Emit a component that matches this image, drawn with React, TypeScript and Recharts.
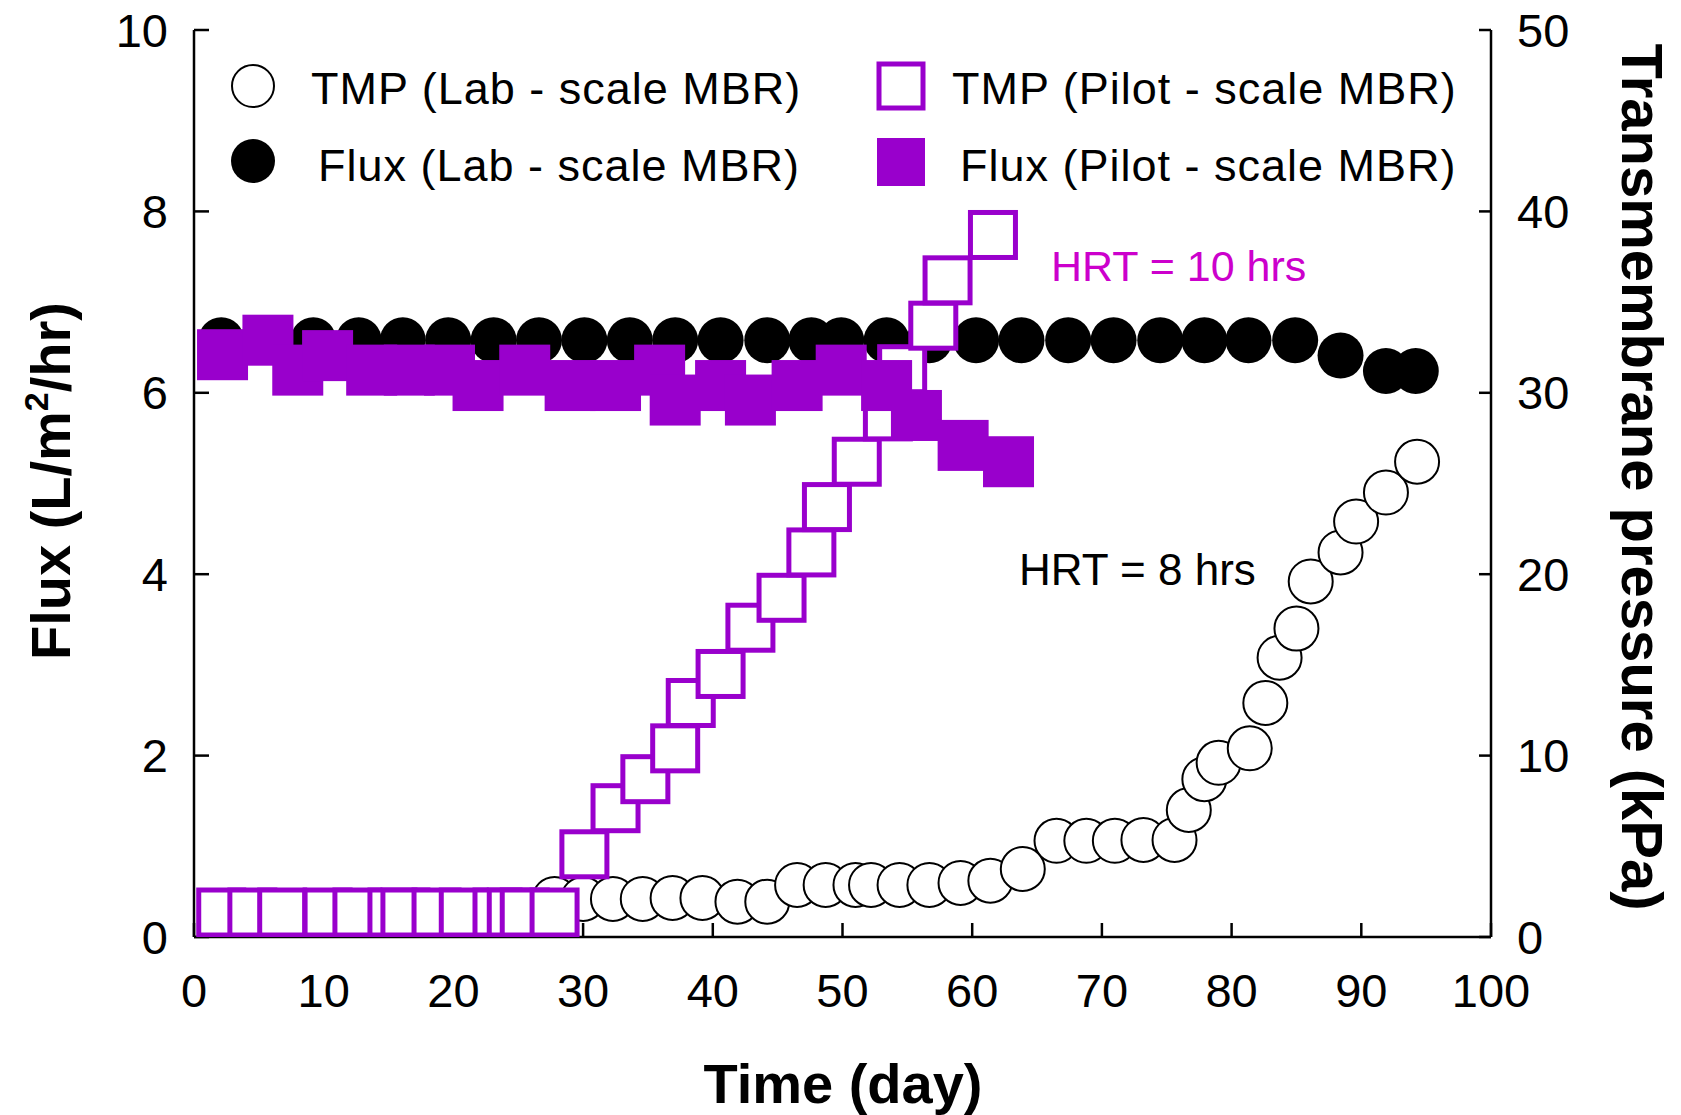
import React from 'react';
import { ComposedChart, Scatter, XAxis, YAxis } from 'recharts';

const FONT = '"Liberation Sans", Arial, Helvetica, sans-serif';
const PURPLE = '#9900cc';
const MAGENTA = '#cc00cc';

// Lab-scale MBR, flux (L/m2/hr)
const labFluxDays = [2.1, 9.2, 12.7, 16.1, 19.6, 23.1, 26.6, 30.1, 33.6, 37.1, 40.6, 44.2, 47.6, 49.9, 53.4, 56.7, 60.3, 63.8, 67.4, 70.9, 74.5, 77.9, 81.3, 84.9, 88.4, 91.9, 94.2];
const labFlux = [6.58, 6.58, 6.58, 6.58, 6.58, 6.58, 6.58, 6.58, 6.58, 6.58, 6.58, 6.58, 6.58, 6.58, 6.58, 6.58, 6.58, 6.58, 6.58, 6.58, 6.58, 6.58, 6.58, 6.58, 6.41, 6.24, 6.24];

// Lab-scale MBR, TMP (kPa)
const labTmpDays = [2.1, 10.8, 27.8, 30.0, 32.3, 34.6, 36.9, 39.2, 41.9, 44.2, 46.5, 48.7, 51.0, 52.2, 54.4, 56.7, 59.1, 61.4, 63.9, 66.5, 68.8, 71.0, 73.2, 75.6, 76.7, 77.9, 79.0, 81.4, 82.6, 83.7, 85.0, 86.1, 88.4, 89.6, 91.9, 94.3];
const labTmp = [1.3, 1.3, 2.1, 2.1, 2.1, 2.1, 2.15, 2.15, 1.95, 1.95, 2.87, 2.87, 2.87, 2.87, 2.87, 2.87, 2.98, 3.1, 3.75, 5.3, 5.3, 5.3, 5.35, 5.35, 7.0, 8.7, 9.6, 10.4, 12.9, 15.4, 17.0, 19.6, 21.2, 22.9, 24.5, 26.2];

// Pilot-scale MBR, flux (L/m2/hr)
const pilotFluxDays = [2.2, 5.7, 8.0, 10.3, 13.7, 16.6, 19.7, 21.9, 25.5, 29.0, 32.5, 35.9, 37.1, 40.6, 42.9, 46.5, 49.9, 53.4, 55.7, 59.3, 62.8];
const pilotFlux = [6.42, 6.58, 6.25, 6.41, 6.25, 6.25, 6.25, 6.08, 6.25, 6.08, 6.08, 6.25, 5.92, 6.08, 5.92, 6.08, 6.25, 6.08, 5.75, 5.42, 5.24];

// Pilot-scale MBR, TMP (kPa)
const pilotTmpDays = [2.1, 4.5, 6.8, 10.3, 12.6, 15.3, 16.3, 18.7, 20.8, 23.4, 24.5, 25.5, 27.8, 30.1, 32.5, 34.8, 37.1, 38.3, 40.6, 42.9, 45.3, 47.6, 48.8, 51.1, 53.5, 54.6, 57.0, 58.1, 61.6];
const pilotTmp = [1.35, 1.35, 1.35, 1.35, 1.35, 1.35, 1.35, 1.35, 1.35, 1.35, 1.35, 1.35, 1.35, 4.56, 7.1, 8.7, 10.4, 12.9, 14.5, 17.05, 18.7, 21.2, 23.7, 26.2, 28.7, 31.3, 33.7, 36.2, 38.7];

const dayTicks = [0, 10, 20, 30, 40, 50, 60, 70, 80, 90, 100];
const fluxTicks = [0, 2, 4, 6, 8, 10];
const tmpTicks = [0, 10, 20, 30, 40, 50];

const zip = (xs: number[], ys: number[]) => xs.map((d, i) => ({ day: d, value: ys[i] }));

const labFluxData = zip(labFluxDays, labFlux);
const labTmpData = zip(labTmpDays, labTmp);
const pilotFluxData = zip(pilotFluxDays, pilotFlux);
const pilotTmpData = zip(pilotTmpDays, pilotTmp);

// marker shapes
const FilledCircle = (p: any) => <circle cx={p.cx} cy={p.cy} r={23} fill="#000" />;
const OpenCircle = (p: any) => <circle cx={p.cx} cy={p.cy} r={22} fill="#fff" stroke="#000" strokeWidth={2} />;
const FilledSquare = (p: any) => <rect x={p.cx - 25.5} y={p.cy - 25.5} width={51} height={51} fill={PURPLE} />;
const OpenSquare = (p: any) => (
  <rect x={p.cx - 22.5} y={p.cy - 22.5} width={45} height={45} fill="#fff" stroke={PURPLE} strokeWidth={5} />
);

const tickStyle = { fill: '#000', fontSize: 47, fontFamily: FONT };
const axisLine = { stroke: '#000', strokeWidth: 2.5 };
const tickLine = { stroke: '#000', strokeWidth: 2.5 };

export default function App() {
  return (
    <div style={{ position: 'absolute', left: 0, top: 0, background: '#fff' }}>
      <ComposedChart
        width={1681}
        height={1115}
        margin={{ top: 30, right: 90, bottom: 118, left: 94 }}
        style={{ fontFamily: FONT }}
      >
        <XAxis
          xAxisId="bottom"
          type="number"
          dataKey="day"
          domain={[0, 100]}
          ticks={dayTicks}
          interval={0}
          height={60}
          tickSize={-14}
          tickMargin={51}
          tick={tickStyle}
          axisLine={axisLine}
          tickLine={tickLine}
          allowDataOverflow
        />
        <XAxis
          xAxisId="top"
          orientation="top"
          type="number"
          dataKey="day"
          domain={[0, 100]}
          height={0}
          tick={false}
          tickLine={false}
          axisLine={axisLine}
        />
        <YAxis
          yAxisId="flux"
          orientation="left"
          type="number"
          dataKey="value"
          domain={[0, 10]}
          ticks={fluxTicks}
          interval={0}
          width={100}
          tickSize={-15}
          tickMargin={41}
          tick={tickStyle}
          axisLine={axisLine}
          tickLine={tickLine}
          allowDataOverflow
        />
        <YAxis
          yAxisId="tmp"
          orientation="right"
          type="number"
          dataKey="value"
          domain={[0, 50]}
          ticks={tmpTicks}
          interval={0}
          width={100}
          tickSize={-12}
          tickMargin={38}
          tick={tickStyle}
          axisLine={axisLine}
          tickLine={tickLine}
          allowDataOverflow
        />

        <Scatter name="Flux (Lab-scale MBR)" data={labFluxData} xAxisId="bottom" yAxisId="flux" shape={FilledCircle} isAnimationActive={false} />
        <Scatter name="TMP (Lab-scale MBR)" data={labTmpData} xAxisId="bottom" yAxisId="tmp" shape={OpenCircle} isAnimationActive={false} />
        <Scatter name="TMP (Pilot-scale MBR)" data={pilotTmpData} xAxisId="bottom" yAxisId="tmp" shape={OpenSquare} isAnimationActive={false} />
        <Scatter name="Flux (Pilot-scale MBR)" data={pilotFluxData} xAxisId="bottom" yAxisId="flux" shape={FilledSquare} isAnimationActive={false} />

        {/* legend */}
        <g fontFamily={FONT} fontSize={45} fill="#000" letterSpacing={1}>
          <circle cx={253} cy={86} r={21} fill="#fff" stroke="#000" strokeWidth={2} />
          <text x={311} y={88} dominantBaseline="central">TMP (Lab - scale MBR)</text>
          <circle cx={253} cy={161} r={22} fill="#000" />
          <text x={318} y={165} dominantBaseline="central">Flux (Lab - scale MBR)</text>
          <rect x={879} y={64} width={44} height={44} fill="#fff" stroke={PURPLE} strokeWidth={5} />
          <text x={952} y={88} dominantBaseline="central">TMP (Pilot - scale MBR)</text>
          <rect x={877} y={138} width={48} height={48} fill={PURPLE} />
          <text x={960} y={165} dominantBaseline="central">Flux (Pilot - scale MBR)</text>
        </g>

        {/* annotations */}
        <text x={1051} y={266} dominantBaseline="central" fontFamily={FONT} fontSize={43} fill={MAGENTA}>HRT = 10 hrs</text>
        <text x={1019} y={585} fontFamily={FONT} fontSize={44} fill="#000">HRT = 8 hrs</text>

        {/* axis titles */}
        <text x={843} y={1103} textAnchor="middle" fontFamily={FONT} fontSize={56} fontWeight="bold" fill="#000">Time (day)</text>
        <text x={70} y={481} transform="rotate(-90 70 481)" textAnchor="middle" fontFamily={FONT} fontSize={56} fontWeight="bold" fill="#000">
          Flux (L/m<tspan dy={-22} fontSize={34}>2</tspan><tspan dy={22}>/hr)</tspan>
        </text>
        <text x={1622} y={477} transform="rotate(90 1622 477)" textAnchor="middle" fontFamily={FONT} fontSize={58} fontWeight="bold" fill="#000">
          Transmembrane pressure (kPa)
        </text>
      </ComposedChart>
    </div>
  );
}
